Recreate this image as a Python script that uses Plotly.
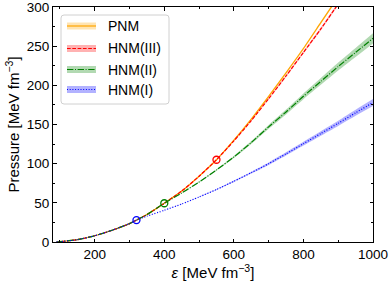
import plotly.graph_objects as go

# ---- data ----
eps_pnm = [90, 100, 150, 200, 250, 300, 320, 350, 400, 450, 500, 550, 600, 650, 700, 750, 800, 850, 900]
p_pnm = [0.0, 0.4, 3.0, 8.0, 15, 23.5, 28, 35, 49.5, 65, 84, 105, 130, 157, 186, 216, 247, 280, 313]
err_pnm = [0, 0, 0, 0, 0, 0, 0, 0, 0.2, 0.3, 0.4, 0.5, 0.7, 0.9, 1.1, 1.3, 1.5, 1.7, 1.9]

eps_h3 = [90, 100, 150, 200, 250, 300, 320, 350, 400, 450, 500, 550, 600, 650, 700, 750, 800, 850, 900]
p_h3 = [0.0, 0.4, 3.0, 8.0, 15, 23.5, 28, 35, 49.5, 65, 84, 105, 129, 155, 183, 212, 242, 272, 304]
err_h3 = [0, 0, 0, 0, 0, 0, 0, 0, 0.2, 0.3, 0.4, 0.5, 0.7, 0.9, 1.1, 1.3, 1.5, 1.7, 1.9]

eps_h2 = [90, 100, 150, 200, 250, 300, 320, 350, 400, 450, 500, 550, 600, 650, 700, 750, 800, 850, 900, 950, 1000]
p_h2 = [0.0, 0.4, 3.0, 8.0, 15, 23.5, 28, 35, 49.5, 62.5, 76.5, 92, 108.5, 127, 147, 166, 186, 205, 224, 242, 260]
err_h2 = [0, 0, 0, 0, 0, 0, 0, 0, 0, 0.3, 0.6, 1.0, 1.4, 1.9, 2.5, 3.1, 3.7, 4.4, 5.1, 5.8, 6.5]

eps_h1 = [90, 100, 150, 200, 250, 300, 320, 350, 400, 450, 500, 550, 600, 650, 700, 750, 800, 850, 900, 950, 1000]
p_h1 = [0.0, 0.4, 3.0, 8.0, 15, 23.5, 28, 33, 40.5, 48.5, 57.5, 67, 77.5, 88.5, 100, 112.5, 125.5, 138.5, 151.5, 165, 178]
err_h1 = [0, 0, 0, 0, 0, 0, 0, 0, 0, 0.2, 0.4, 0.6, 0.9, 1.2, 1.6, 2.0, 2.4, 2.9, 3.4, 3.9, 4.5]

trans_eps = [320, 400, 550]
trans_p = [28, 49.5, 105]
trans_colors = ["blue", "green", "red"]

labels = ["PNM", "HNM(III)", "HNM(II)", "HNM(I)"]
colors = ["#FFA500", "red", "green", "blue"]
bands = ["rgba(255,165,0,0.3)", "rgba(255,0,0,0.3)", "rgba(0,128,0,0.3)", "rgba(0,0,255,0.3)"]
dashes = ["solid", "3.7px,1.6px", "6.4px,1.6px,1px,1.6px", "1px,1.7px"]

series = [(eps_pnm, p_pnm, err_pnm), (eps_h3, p_h3, err_h3), (eps_h2, p_h2, err_h2), (eps_h1, p_h1, err_h1)]

fig = go.Figure()
for (e, p, er), c, b in zip(series, colors, bands):
    up = [pi + ei for pi, ei in zip(p, er)]
    lo = [pi - ei for pi, ei in zip(p, er)]
    fig.add_trace(go.Scatter(x=e, y=up, mode="lines", line=dict(width=0, shape="spline", smoothing=0.6),
                             showlegend=False, hoverinfo="skip"))
    fig.add_trace(go.Scatter(x=e, y=lo, mode="lines", line=dict(width=0, shape="spline", smoothing=0.6),
                             fill="tonexty", fillcolor=b, showlegend=False, hoverinfo="skip"))

for (e, p, er), c, d, n in zip(series, colors, dashes, labels):
    fig.add_trace(go.Scatter(x=e, y=p, mode="lines",
                             line=dict(color=c, width=1.2, dash=d, shape="spline", smoothing=0.6),
                             name=n, showlegend=False))

fig.add_trace(go.Scatter(x=trans_eps, y=trans_p, mode="markers",
                         marker=dict(symbol="circle-open", size=7, color=trans_colors, line=dict(width=1.3)),
                         showlegend=False))

# ---- custom legend (matplotlib-like) ----
L, R, T, B = 53, 373, 7, 242
def px(x):
    return (x - L) / (R - L)
def py(y):
    return (B - y) / (B - T)

x0, x1, y0, y1, r = 61, 169, 15, 104, 3
path = (f"M {px(x0+r)},{py(y0)} L {px(x1-r)},{py(y0)} Q {px(x1)},{py(y0)} {px(x1)},{py(y0+r)} "
        f"L {px(x1)},{py(y1-r)} Q {px(x1)},{py(y1)} {px(x1-r)},{py(y1)} "
        f"L {px(x0+r)},{py(y1)} Q {px(x0)},{py(y1)} {px(x0)},{py(y1-r)} "
        f"L {px(x0)},{py(y0+r)} Q {px(x0)},{py(y0)} {px(x0+r)},{py(y0)} Z")
shapes = [dict(type="path", xref="paper", yref="paper", path=path,
               fillcolor="rgba(255,255,255,0.8)", line=dict(color="#d0d0d0", width=1))]
annotations = []
rows = [26, 48.5, 69.5, 89.5]
for yy, c, b, d, n in zip(rows, colors, bands, dashes, labels):
    shapes.append(dict(type="rect", xref="paper", yref="paper", x0=px(67), x1=px(96),
                       y0=py(yy + 3.5), y1=py(yy - 3.5), fillcolor=b, line=dict(width=0)))
    shapes.append(dict(type="line", xref="paper", yref="paper", x0=px(67), x1=px(96),
                       y0=py(yy), y1=py(yy), line=dict(color=c, width=1.2, dash=d)))
    annotations.append(dict(xref="paper", yref="paper", x=px(106), y=py(yy), text=n, showarrow=False,
                            xanchor="left", yanchor="middle", font=dict(size=14, color="black")))

fig.update_layout(
    width=390, height=285,
    margin=dict(l=L, r=390 - R, t=T, b=285 - B, autoexpand=False),
    plot_bgcolor="white", paper_bgcolor="white",
    font=dict(family="Liberation Sans, Arial, sans-serif", color="black"),
    shapes=shapes, annotations=annotations,
    showlegend=False,
)
axis_common = dict(showline=True, linecolor="black", linewidth=1, mirror="ticks", ticks="inside",
                   ticklen=3.5, tickwidth=1, tickcolor="black", showgrid=False, zeroline=False,
                   tickfont=dict(size=13.5), automargin=False, ticklabeloverflow="allow")
fig.update_xaxes(range=[80, 1000], tick0=0, dtick=200,
                 minor=dict(ticks="inside", dtick=100, tick0=0, ticklen=2, tickcolor="black", showgrid=False),
                 title=dict(text="<i>ε</i> [MeV fm<sup>−3</sup>]", font=dict(size=15), standoff=3),
                 **axis_common)
fig.update_yaxes(range=[0, 300.01], tick0=0, dtick=50,
                 minor=dict(ticks="inside", dtick=25, tick0=0, ticklen=2, tickcolor="black", showgrid=False),
                 title=dict(text="Pressure [MeV fm<sup>−3</sup>]", font=dict(size=15), standoff=3),
                 **axis_common)

fig.write_html("out.html", config={"displayModeBar": False},
               post_script="document.body.style.margin='0px';")
